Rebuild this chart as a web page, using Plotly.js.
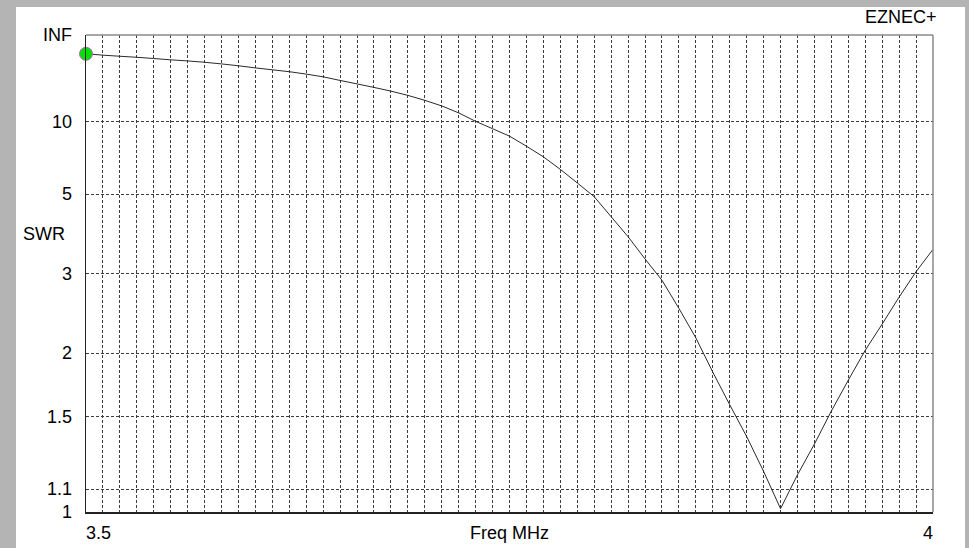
<!DOCTYPE html>
<html>
<head>
<meta charset="utf-8">
<script src="https://cdn.plot.ly/plotly-3.0.1.min.js"></script>
<style>html,body{margin:0;padding:0;background:#b4b4b4;}#chart{width:969px;height:548px;}</style>
</head>
<body>
<div id="chart"></div>
<script>
// Frequency (MHz) samples
const freqMHz = [3.50,3.51,3.52,3.53,3.54,3.55,3.56,3.57,3.58,3.59,
                 3.60,3.61,3.62,3.63,3.64,3.65,3.66,3.67,3.68,3.69,
                 3.70,3.71,3.72,3.73,3.74,3.75,3.76,3.77,3.78,3.79,
                 3.80,3.81,3.82,3.83,3.84,3.85,3.86,3.87,3.88,3.89,
                 3.90,3.91,3.92,3.93,3.94,3.95,3.96,3.97,3.98,3.99,4.00];
// SWR
const swrValues = [49.8,46.3,43.9,41.8,39.6,37.4,35.8,34.0,32.0,30.0,
                   28.0,26.4,25.0,23.4,21.8,20.0,18.5,17.2,16.0,14.8,
                   13.6,12.45,11.25,10.05,9.18,8.43,7.58,6.83,6.10,5.45,
                   4.90,4.25,3.73,3.26,2.89,2.49,2.15,1.83,1.58,1.376,
                   1.186,1.014,1.169,1.332,1.537,1.764,2.026,2.30,2.64,3.03,3.45];
// Y axis labels (SWR) and X axis labels
const ySwrTicks = [Infinity,10,5,3,2,1.5,1.1,1];
const yTickText = ['INF','10','5','3','2','1.5','1.1','1'];
const xTickVals = [3.5, 4.0];
const xTickText = ['3.5','4'];

// EZNEC SWR scale is linear in reflection coefficient
const gamma = s => isFinite(s) ? (s - 1) / (s + 1) : 1;

const FONT = 'Liberation Sans, Arial, sans-serif';
const gridVals = ySwrTicks.filter(s => isFinite(s) && s > 1).map(gamma);

const traces = [
  {
    x: freqMHz, y: swrValues.map(gamma), type: 'scatter', mode: 'lines',
    line: {color: '#2a2a2a', width: 1, simplify: false}, hoverinfo: 'skip', showlegend: false
  },
  {
    x: [freqMHz[0]], y: [gamma(swrValues[0])], type: 'scatter', mode: 'markers',
    marker: {color: '#00e000', size: 13, line: {color: '#c060c0', width: 1}},
    cliponaxis: false, showlegend: false, hoverinfo: 'skip'
  }
];

const annotations = [];
ySwrTicks.forEach((s, i) => {
  annotations.push({xref: 'paper', yref: 'y', x: 0, y: gamma(s), xanchor: 'right', yanchor: 'middle',
    xshift: -12, text: yTickText[i], showarrow: false, font: {family: FONT, size: 18, color: '#000'}});
});
xTickVals.forEach((v, i) => {
  annotations.push({xref: 'x', yref: 'paper', x: v, y: 0, xanchor: i === 0 ? 'left' : 'right', yanchor: 'middle',
    yshift: -21, xshift: i === 0 ? -2 : 2, text: xTickText[i], showarrow: false, font: {family: FONT, size: 18, color: '#000'}});
});
annotations.push({xref: 'paper', yref: 'paper', x: 0.5, y: 0, xanchor: 'center', yanchor: 'middle', yshift: -21,
  text: 'Freq MHz', showarrow: false, font: {family: FONT, size: 18, color: '#000'}});
annotations.push({xref: 'paper', yref: 'paper', x: (21 - 86) / 847, y: (512 - 234) / 477, xanchor: 'left', yanchor: 'middle',
  text: 'SWR', showarrow: false, font: {family: FONT, size: 18, color: '#000'}});
annotations.push({xref: 'paper', yref: 'paper', x: (939 - 86) / 847, y: (512 - 17) / 477, xanchor: 'right', yanchor: 'middle',
  text: 'EZNEC+', showarrow: false, font: {family: FONT, size: 18, color: '#000'}});

const layout = {
  width: 969, height: 548,
  margin: {l: 86, r: 36, t: 35, b: 36, pad: 0},
  paper_bgcolor: '#b4b4b4', plot_bgcolor: '#ffffff',
  showlegend: false,
  xaxis: {
    range: [3.5, 4.0], tickmode: 'linear', tick0: 3.5, dtick: 0.01,
    showticklabels: false, ticks: '', showgrid: true, gridcolor: '#3c3c3c', gridwidth: 1, griddash: '3px,2px',
    zeroline: false, showline: true, linecolor: '#222', linewidth: 1.5, fixedrange: true
  },
  yaxis: {
    range: [0, 1], tickmode: 'array', tickvals: gridVals,
    showticklabels: false, ticks: '', showgrid: true, gridcolor: '#3c3c3c', gridwidth: 1, griddash: '3px,2px',
    zeroline: false, showline: true, linecolor: '#222', linewidth: 1.5, fixedrange: true
  },
  shapes: [
    {type: 'rect', xref: 'paper', yref: 'paper', x0: (16 - 86) / 847, x1: (965 - 86) / 847,
     y0: (512 - 560) / 477, y1: (512 - 7) / 477, fillcolor: '#ffffff', line: {width: 0}, layer: 'below'},
    {type: 'line', xref: 'paper', yref: 'paper', x0: 0, x1: 1, y0: 1, y1: 1, line: {color: '#8a8a8a', width: 1.5}},
    {type: 'line', xref: 'paper', yref: 'paper', x0: 1, x1: 1, y0: 0, y1: 1, line: {color: '#8a8a8a', width: 1.5}}
  ],
  annotations: annotations
};

Plotly.newPlot('chart', traces, layout, {displayModeBar: false, staticPlot: true});
</script>
</body>
</html>
